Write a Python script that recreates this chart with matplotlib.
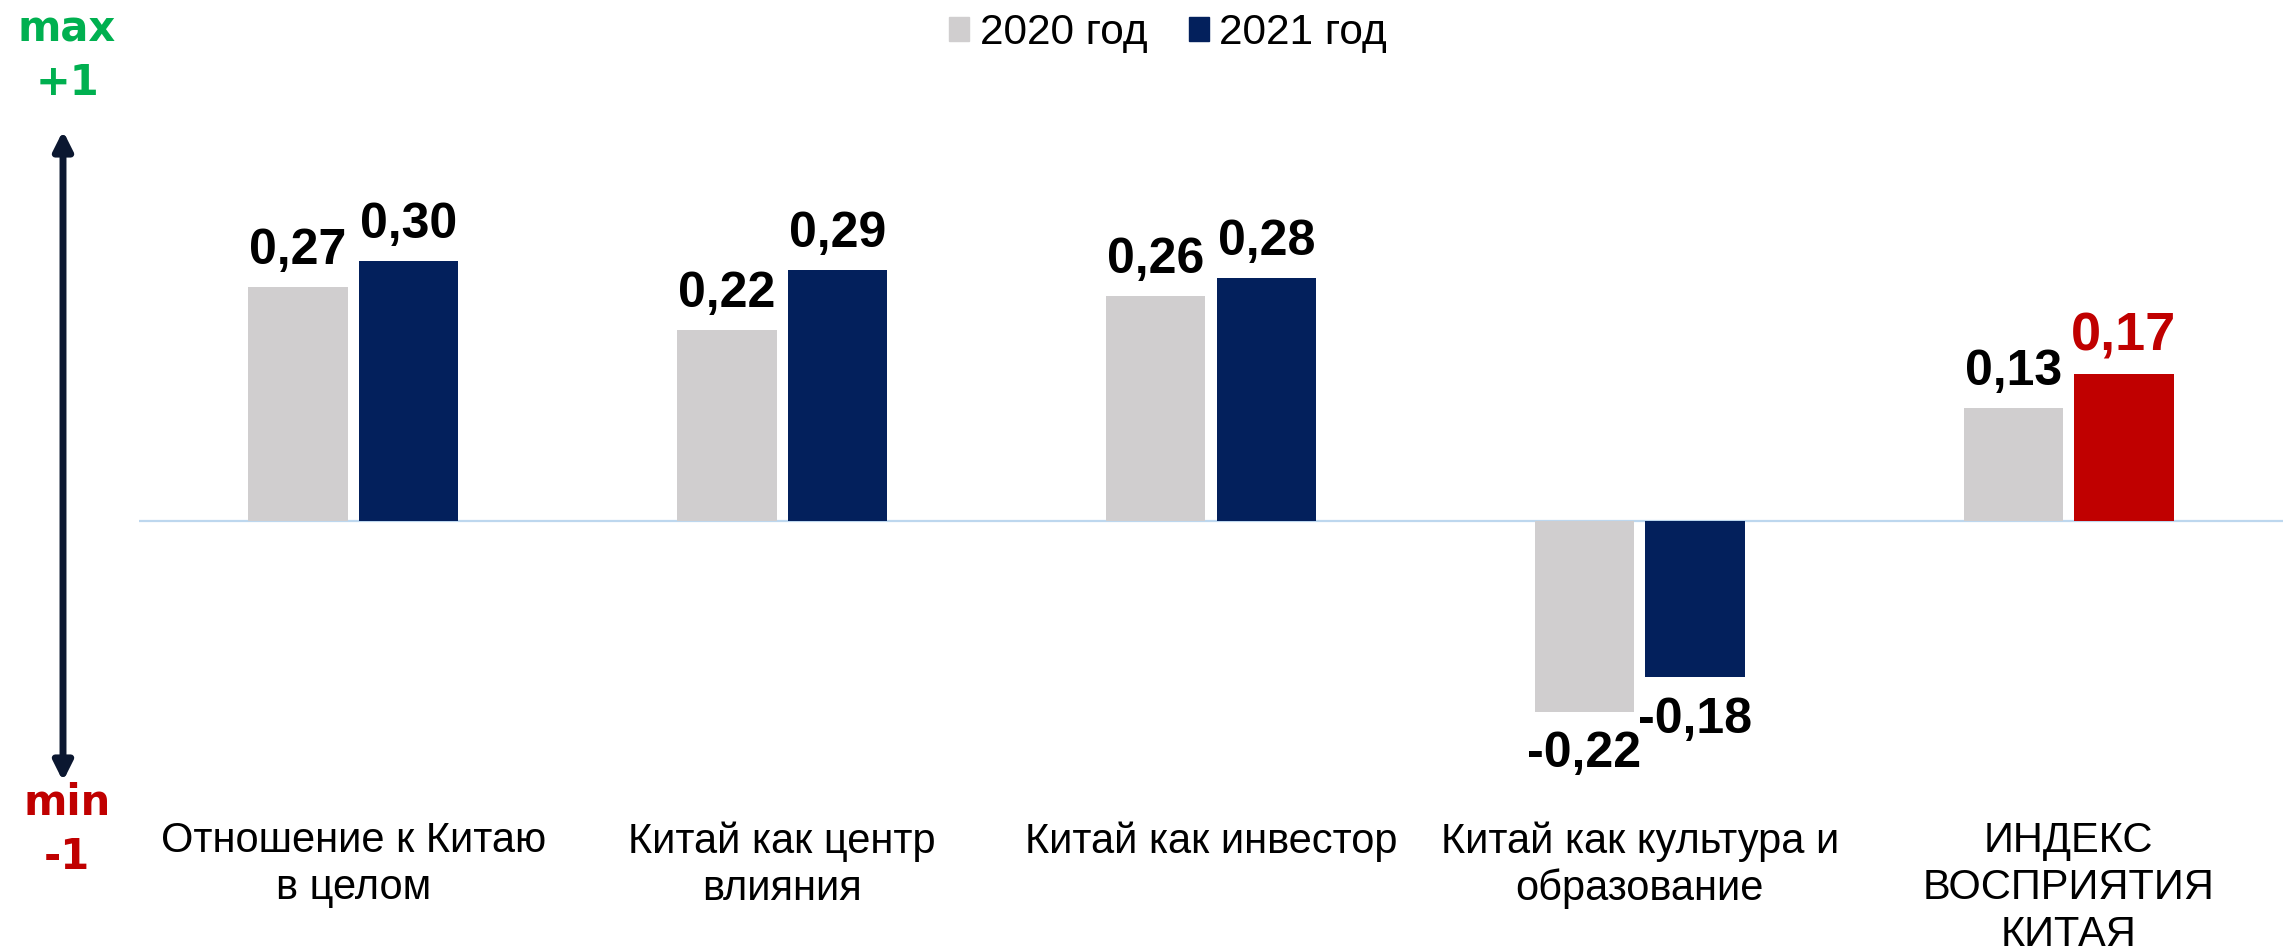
import numpy as np
import matplotlib
matplotlib.use('Agg')
import matplotlib.pyplot as plt
from matplotlib.patches import Patch

categories = ['Отношение к Китаю\nв целом', 'Китай как центр\nвлияния',
              'Китай как инвестор', 'Китай как культура и\nобразование',
              'ИНДЕКС\nВОСПРИЯТИЯ\nКИТАЯ']
values_2020 = [0.27, 0.22, 0.26, -0.22, 0.13]
values_2021 = [0.30, 0.29, 0.28, -0.18, 0.17]
labels_2020 = ['0,27', '0,22', '0,26', '-0,22', '0,13']
labels_2021 = ['0,30', '0,29', '0,28', '-0,18', '0,17']
series_names = ['2020 год', '2021 год']

GRAY = '#D0CECF'
NAVY = '#03205C'
RED = '#C00000'
GREEN = '#00B050'

W, H = 2290, 947
fig = plt.figure(figsize=(W / 100, H / 100), dpi=100)
ax = fig.add_axes([139 / W, 0, 2144 / W, 1])

# zero line sits at pixel row 521, 867 px per unit
ppu = 867.0
zero_px = 521
ax.set_ylim(-(H - zero_px) / ppu, zero_px / ppu)
ax.set_xlim(-0.5, len(categories) - 0.5)
ax.axis('off')

x = np.arange(len(categories))
bw = 0.232
off = 0.129
colors_2021 = [NAVY] * (len(categories) - 1) + [RED]
ax.bar(x - off, values_2020, bw, color=GRAY, zorder=2)
ax.bar(x + off, values_2021, bw, color=colors_2021, zorder=2)
ax.axhline(0, color='#BDD7EE', lw=1.6, zorder=1)

def put_label(xpos, v, txt, color='black', size=36):
    dy = 16.5 if v >= 0 else -40
    ax.annotate(txt, (xpos, v), xytext=(0, dy), textcoords='offset points',
                ha='center', va='baseline', fontsize=size, fontweight='bold',
                color=color, family='Liberation Sans')

for i in range(len(categories)):
    put_label(x[i] - off, values_2020[i], labels_2020[i])
    if i == len(categories) - 1:
        put_label(x[i] + off, values_2021[i], labels_2021[i], RED, 39)
    else:
        put_label(x[i] + off, values_2021[i], labels_2021[i])

cat_y = -(821 - zero_px) / ppu
for i, c in enumerate(categories):
    ax.text(x[i], cat_y, c, ha='center', va='top', fontsize=30,
            family='Liberation Sans', linespacing=1.23)

handles = [Patch(color=GRAY), Patch(color=NAVY)]
fig.legend(handles, series_names, loc='center', bbox_to_anchor=(1168 / W, 1 - 33 / H),
           ncol=2, frameon=False, prop={'family': 'Liberation Sans', 'size': 30.5},
           handlelength=0.47, handleheight=0.47, handletextpad=0.24,
           columnspacing=0.98, borderpad=0, borderaxespad=0)

# scale arrow on the left
fig.patches.append(matplotlib.patches.FancyArrowPatch(
    (63 / W, 1 - 128 / H), (63 / W, 1 - 784 / H), transform=fig.transFigure,
    arrowstyle='<|-|>', mutation_scale=28, lw=5, color='#0B1730'))
fig.text(67 / W, 1 - 29 / H, 'max', ha='center', va='center', fontsize=30,
         fontweight='bold', color=GREEN)
fig.text(67 / W, 1 - 83 / H, '+1', ha='center', va='center', fontsize=30,
         fontweight='bold', color=GREEN)
fig.text(67 / W, 1 - 803 / H, 'min', ha='center', va='center', fontsize=30,
         fontweight='bold', color=RED)
fig.text(67 / W, 1 - 857 / H, '-1', ha='center', va='center', fontsize=30,
         fontweight='bold', color=RED)

fig.savefig('out.png', dpi=100)
